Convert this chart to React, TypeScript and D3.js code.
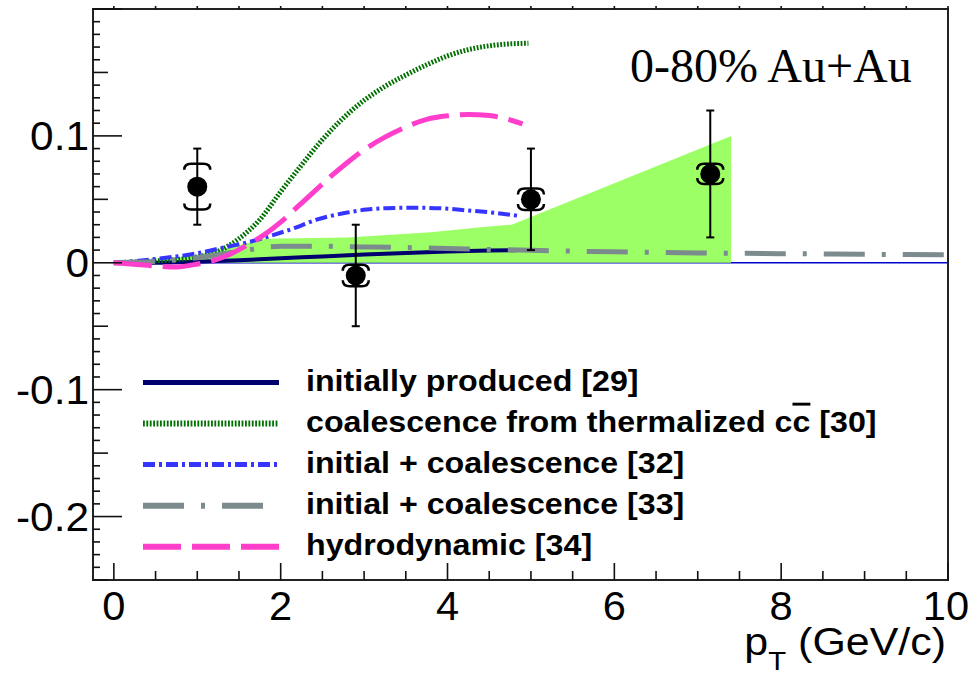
import React from 'react';
import * as d3 from 'd3';

const W = 971;
const H = 680;

// measured data points
const dataPt = [1.0, 2.9, 5.0, 7.15];
const dataV2 = [0.06, -0.01, 0.05, 0.07];
const dataStat = [0.03, 0.04, 0.04, 0.05];
const dataSys = [0.018, 0.0085, 0.0085, 0.008];

// model curves
const initPt = [0, 0.5, 1, 1.5, 2, 2.5, 3, 3.5, 4, 4.5, 4.85];
const initV2 = [0, 0, 0.0008, 0.002, 0.0035, 0.005, 0.0065, 0.0078, 0.0088, 0.0096, 0.01];

const coalPt = [0, 0.5, 1.0, 1.25, 1.5, 1.75, 2.0, 2.25, 2.5, 2.75, 3.0, 3.25, 3.5, 3.75, 4.0, 4.25, 4.5, 4.75, 4.97];
const coalV2 = [0, 0.0015, 0.0046, 0.009, 0.019, 0.034, 0.056, 0.077, 0.097, 0.114, 0.128, 0.139, 0.148, 0.156, 0.163, 0.168, 0.171, 0.1725, 0.173];

const ic32Pt = [0, 0.5, 1.0, 1.35, 1.6, 1.83, 2.15, 2.43, 2.75, 3.03, 3.35, 3.63, 3.95, 4.23, 4.55, 4.85];
const ic32V2 = [0, 0.003, 0.0075, 0.0125, 0.016, 0.0203, 0.027, 0.034, 0.039, 0.0419, 0.0432, 0.0434, 0.0428, 0.0413, 0.0395, 0.037];

const ic33Pt = [0, 0.5, 1.0, 1.5, 2.0, 2.5, 3.0, 3.5, 4.0, 4.5, 5.0, 6.0, 7.0, 8.0, 9.0, 10.0];
const ic33V2 = [0, 0.001, 0.004, 0.009, 0.013, 0.013, 0.0125, 0.012, 0.0113, 0.0105, 0.0098, 0.0086, 0.0078, 0.0072, 0.0067, 0.0063];

const hydroPt = [0, 0.4, 0.75, 1.0, 1.2, 1.4, 1.6, 1.8, 2.0, 2.2, 2.4, 2.6, 2.8, 3.0, 3.25, 3.5, 3.75, 4.0, 4.25, 4.5, 4.7, 4.9];
const hydroV2 = [0, -0.002, -0.0033, -0.001, 0.002, 0.007, 0.014, 0.022, 0.032, 0.044, 0.056, 0.068, 0.079, 0.089, 0.099, 0.107, 0.113, 0.1158, 0.1168, 0.116, 0.1135, 0.1095];

const bandPt = [0, 0.5, 1.0, 1.5, 1.8, 2.8, 3.8, 4.4, 4.77, 7.4];
const bandHi = [0, 0.002, 0.006, 0.014, 0.019, 0.02, 0.024, 0.028, 0.03, 0.1];

const xTickLabels = [0, 2, 4, 6, 8, 10];
const yTickLabels = [-0.2, -0.1, 0, 0.1];

const legendLabels = [
  'initially produced [29]',
  'coalescence from thermalized',
  'initial + coalescence [32]',
  'initial + coalescence [33]',
  'hydrodynamic [34]',
];

const X0 = 93, X1 = 948, Y0 = 9, Y1 = 580;
const xs = d3.scaleLinear().domain([-0.25, 10]).range([X0, X1]);
const ys = d3.scaleLinear().domain([-0.25, 0.2]).range([Y1, Y0]);

const NAVY = '#00006e';
const DGREEN = '#007000';
const BLUE = '#3535ff';
const GRAY = '#7b8b8e';
const PINK = '#ff3fcc';
const BAND = '#9cff66';

const styles = [
  { stroke: NAVY, width: 4, dash: undefined as string | undefined },
  { stroke: DGREEN, width: 5, dash: '1.8 1.6' },
  { stroke: BLUE, width: 4, dash: '12 4 3 4' },
  { stroke: GRAY, width: 5, dash: '41 17 4 17' },
  { stroke: PINK, width: 5, dash: '38 11' },
];

function path(px: number[], py: number[]) {
  const pts = px.map((p, i) => [p, py[i]] as [number, number]);
  return d3
    .line<[number, number]>()
    .x((d) => xs(d[0]))
    .y((d) => ys(d[1]))
    .curve(d3.curveMonotoneX)(pts) as string;
}

const FONT = "'Liberation Sans', Arial, sans-serif";

export default function App() {
  const curves = [
    [initPt, initV2],
    [coalPt, coalV2],
    [ic32Pt, ic32V2],
    [ic33Pt, ic33V2],
    [hydroPt, hydroV2],
  ];

  const bandPts = bandPt.map((p, i) => [p, bandHi[i]] as [number, number]);
  const bandArea = d3
    .area<[number, number]>()
    .x((d) => xs(d[0]))
    .y0(() => ys(0))
    .y1((d) => ys(d[1]))
    .curve(d3.curveLinear)(bandPts) as string;

  // ticks
  const yTicks: JSX.Element[] = [];
  for (let i = -25; i <= 20; i++) {
    const v = i / 100;
    const len = i % 10 === 0 ? 29 : Math.abs(i % 10) === 5 ? 15 : 7;
    yTicks.push(
      <line key={'yt' + i} x1={X0} x2={X0 + len} y1={ys(v)} y2={ys(v)} stroke="#111" strokeWidth={1.6} />
    );
  }
  const xTicks: JSX.Element[] = [];
  for (let i = 0; i <= 20; i++) {
    const v = i / 2;
    const len = i % 4 === 0 ? 17 : 9;
    xTicks.push(
      <line key={'xt' + i} x1={xs(v)} x2={xs(v)} y1={Y1} y2={Y1 - len} stroke="#111" strokeWidth={1.6} />
    );
    xTicks.push(
      <line key={'xtt' + i} x1={xs(v)} x2={xs(v)} y1={Y0} y2={Y0 - 3} stroke="#111" strokeWidth={1.6} />
    );
  }

  const legendY0 = 382.5;
  const legendDy = 41.05;

  return (
    <svg width={W} height={H} style={{ position: 'absolute', left: 0, top: 0, background: '#fff' }}>
      <rect x={0} y={0} width={W} height={H} fill="#fff" />
      {/* zero line */}
      <line x1={xs(0)} x2={xs(10)} y1={ys(0)} y2={ys(0)} stroke="#0000cc" strokeWidth={1.5} />
      {/* band */}
      <path d={bandArea} fill={BAND} stroke="none" />
      {/* curves */}
      {curves.map((c, i) => (
        <path
          key={'c' + i}
          d={path(c[0] as number[], c[1] as number[])}
          fill="none"
          stroke={styles[i].stroke}
          strokeWidth={styles[i].width}
          strokeDasharray={styles[i].dash}
        />
      ))}
      {/* data points */}
      {dataPt.map((p, i) => {
        const cx = xs(p);
        const cy = ys(dataV2[i]);
        const yt = ys(dataV2[i] + dataStat[i]);
        const yb = ys(dataV2[i] - dataStat[i]);
        const st = ys(dataV2[i] + dataSys[i]);
        const sb = ys(dataV2[i] - dataSys[i]);
        return (
          <g key={'d' + i}>
            <line x1={cx} x2={cx} y1={yt} y2={yb} stroke="#000" strokeWidth={2} />
            <line x1={cx - 4} x2={cx + 4} y1={yt} y2={yt} stroke="#000" strokeWidth={2} />
            <line x1={cx - 4} x2={cx + 4} y1={yb} y2={yb} stroke="#000" strokeWidth={2} />
            <path
              d={`M${cx - 13},${st + 6} Q${cx - 13},${st} ${cx - 6},${st} L${cx + 6},${st} Q${cx + 13},${st} ${cx + 13},${st + 6}`}
              fill="none"
              stroke="#000"
              strokeWidth={2.5}
            />
            <path
              d={`M${cx - 13},${sb - 6} Q${cx - 13},${sb} ${cx - 6},${sb} L${cx + 6},${sb} Q${cx + 13},${sb} ${cx + 13},${sb - 6}`}
              fill="none"
              stroke="#000"
              strokeWidth={2.5}
            />
            <circle cx={cx} cy={cy} r={10} fill="#000" />
          </g>
        );
      })}
      {/* frame */}
      <rect x={X0} y={Y0} width={X1 - X0} height={Y1 - Y0} fill="none" stroke="#222" strokeWidth={2} />
      {yTicks}
      {xTicks}
      {/* y tick labels */}
      {yTickLabels.map((v) => (
        <text
          key={'yl' + v}
          transform={`translate(89,${ys(v) + 14.5}) scale(1.06,1)`}
          textAnchor="end"
          fontFamily={FONT}
          fontSize={40}
          fill="#000"
        >
          {v === 0 ? '0' : String(v)}
        </text>
      ))}
      {/* x tick labels */}
      {xTickLabels.map((v) => (
        <text
          key={'xl' + v}
          transform={`translate(${v === 10 ? xs(v) - 2 : xs(v)},620) scale(1.04,1)`}
          textAnchor="middle"
          fontFamily={FONT}
          fontSize={40}
          fill="#000"
        >
          {String(v)}
        </text>
      ))}
      {/* x axis title */}
      <text transform="translate(946,655) scale(1.13,1)" textAnchor="end" fontFamily={FONT} fontSize={38} fill="#000">
        p
        <tspan fontSize={26} dy={15}>T</tspan>
        <tspan dy={-15}> (GeV/c)</tspan>
      </text>
      {/* title */}
      <text x={630} y={81.5} fontFamily="'Liberation Serif', 'Times New Roman', serif" fontSize={48} fill="#000">
        0-80% Au+Au
      </text>
      {/* legend */}
      {legendLabels.map((lab, i) => {
        const y = legendY0 + i * legendDy;
        return (
          <g key={'lg' + i}>
            <line
              x1={143}
              x2={279}
              y1={y}
              y2={y}
              stroke={styles[i].stroke}
              strokeWidth={styles[i].width + 1}
              strokeDasharray={styles[i].dash}
            />
            <text
              transform={`translate(306,${y + 8.5}) scale(1.11,1)`}
              fontFamily={FONT}
              fontWeight="bold"
              fontSize={29}
              fill="#000"
            >
              {i === 1 ? (
                <>
                  {lab} c<tspan style={{ textDecoration: 'overline' }}>c</tspan> [30]
                </>
              ) : (
                lab
              )}
            </text>
          </g>
        );
      })}
    </svg>
  );
}
